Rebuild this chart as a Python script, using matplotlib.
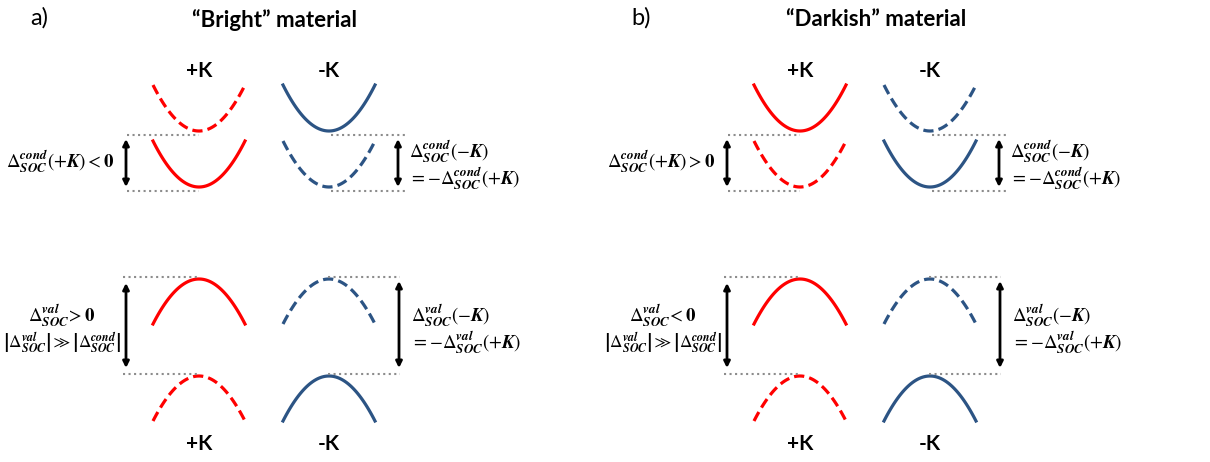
import numpy as np
import matplotlib.pyplot as plt

plt.rcParams['mathtext.fontset'] = 'stix'
plt.rcParams['font.family'] = ['Lato', 'DejaVu Sans']

# two panels side by side, coordinates are figure pixels
panel_tags = ['a)', 'b)']
titles = ['“Bright” material', '“Darkish” material']
panel_shift = [0, 601]

valleys = ['+K', '-K']
valley_x = [199, 329]
half_width = 46

# band extrema (pixel rows): upper / lower
cond_min = [131, 187]
cond_depth = 46
val_max = [279, 376]
val_depth = 45

# line style per band (row) and valley (column)
cond_styles = [
    [['--', '-'], ['-', '--']],   # bright
    [['-', '--'], ['--', '-']],   # darkish
]
val_styles = [['-', '--'], ['--', '-']]
colors = ['#ff0000', '#2c5484']

cond_left = [r'$\Delta^{\mathbfit{cond}}_{\mathbfit{SOC}}(+\mathbfit{K}) < \mathbf{0}$',
             r'$\Delta^{\mathbfit{cond}}_{\mathbfit{SOC}}(+\mathbfit{K}) > \mathbf{0}$']
cond_right = (r'$\Delta^{\mathbfit{cond}}_{\mathbfit{SOC}}(-\mathbfit{K})$' + '\n'
              + r'$= -\Delta^{\mathbfit{cond}}_{\mathbfit{SOC}}(+\mathbfit{K})$')
val_left = [r'$\Delta^{\mathbfit{val}}_{\mathbfit{SOC}}\!> \mathbf{0}$',
            r'$\Delta^{\mathbfit{val}}_{\mathbfit{SOC}}\!< \mathbf{0}$']
val_abs = (r'$\left|\Delta^{\mathbfit{val}}_{\mathbfit{SOC}}\right| \gg '
           r'\left|\Delta^{\mathbfit{cond}}_{\mathbfit{SOC}}\right|$')
val_right = (r'$\Delta^{\mathbfit{val}}_{\mathbfit{SOC}}(-\mathbfit{K})$' + '\n'
             + r'$= -\Delta^{\mathbfit{val}}_{\mathbfit{SOC}}(+\mathbfit{K})$')

fig = plt.figure(figsize=(12.1, 4.62), dpi=100)
ax = fig.add_axes([0, 0, 1, 1])
ax.set_xlim(0, 1210)
ax.set_ylim(462, 0)
ax.axis('off')

grey = '#8c8c8c'
t = np.linspace(-1, 1, 60)


def arrow(x, y0, y1):
    ax.annotate('', xy=(x, y1), xytext=(x, y0),
                arrowprops=dict(arrowstyle='<|-|>', color='black', lw=2,
                                mutation_scale=9, shrinkA=0, shrinkB=0))


for p in range(2):
    dx = panel_shift[p]
    ax.text(30 + dx, 18, panel_tags[p], fontsize=17, ha='left', va='center')
    ax.text(275 + dx, 20, titles[p], fontsize=16, fontweight='bold',
            ha='center', va='center')
    for v in range(2):
        ax.text(valley_x[v] + dx, 71, valleys[v], fontsize=15,
                fontweight='bold', ha='center', va='center')
        ax.text(valley_x[v] + dx, 444, valleys[v], fontsize=15,
                fontweight='bold', ha='center', va='center')
        xs = valley_x[v] + dx + half_width * t
        for b in range(2):
            ax.plot(xs, cond_min[b] - cond_depth * t ** 2,
                    ls=cond_styles[p][b][v], color=colors[v], lw=2.3,
                    dashes=(3.2, 1.6) if cond_styles[p][b][v] == '--' else (None, None))
            ax.plot(xs, val_max[b] + val_depth * t ** 2,
                    ls=val_styles[b][v], color=colors[v], lw=2.3,
                    dashes=(3.2, 1.6) if val_styles[b][v] == '--' else (None, None))

    # dotted reference levels
    for y in [cond_min[0] + 4, cond_min[1] + 4]:
        ax.plot([127 + dx, valley_x[0] + dx], [y, y], ls=':', color=grey, lw=1.5)
        ax.plot([valley_x[1] + 2 + dx, 405 + dx], [y, y], ls=':', color=grey, lw=1.5)
    for y in [val_max[0] - 2, val_max[1] - 2]:
        ax.plot([123 + dx, valley_x[0] + dx], [y, y], ls=':', color=grey, lw=1.5)
        ax.plot([valley_x[1] - 1 + dx, 400 + dx], [y, y], ls=':', color=grey, lw=1.5)

    arrow(126 + dx, 139, 187)
    arrow(398 + dx, 139, 187)
    arrow(126 + dx, 283, 368)
    arrow(399 + dx, 281, 368)

    ax.text(114 + dx, 162, cond_left[p], fontsize=13.5, ha='right', va='center')
    ax.text(409 + dx, 165, cond_right, fontsize=13.5, ha='left', va='center',
            linespacing=1.05)
    ax.text(62 + dx, 316, val_left[p], fontsize=13.5, ha='center', va='center')
    ax.text(62 + dx, 343, val_abs, fontsize=12.3, ha='center', va='center')
    ax.text(411 + dx, 329, val_right, fontsize=13.5, ha='left', va='center',
            linespacing=1.05)

fig.savefig('out.png', dpi=100, facecolor='white')
